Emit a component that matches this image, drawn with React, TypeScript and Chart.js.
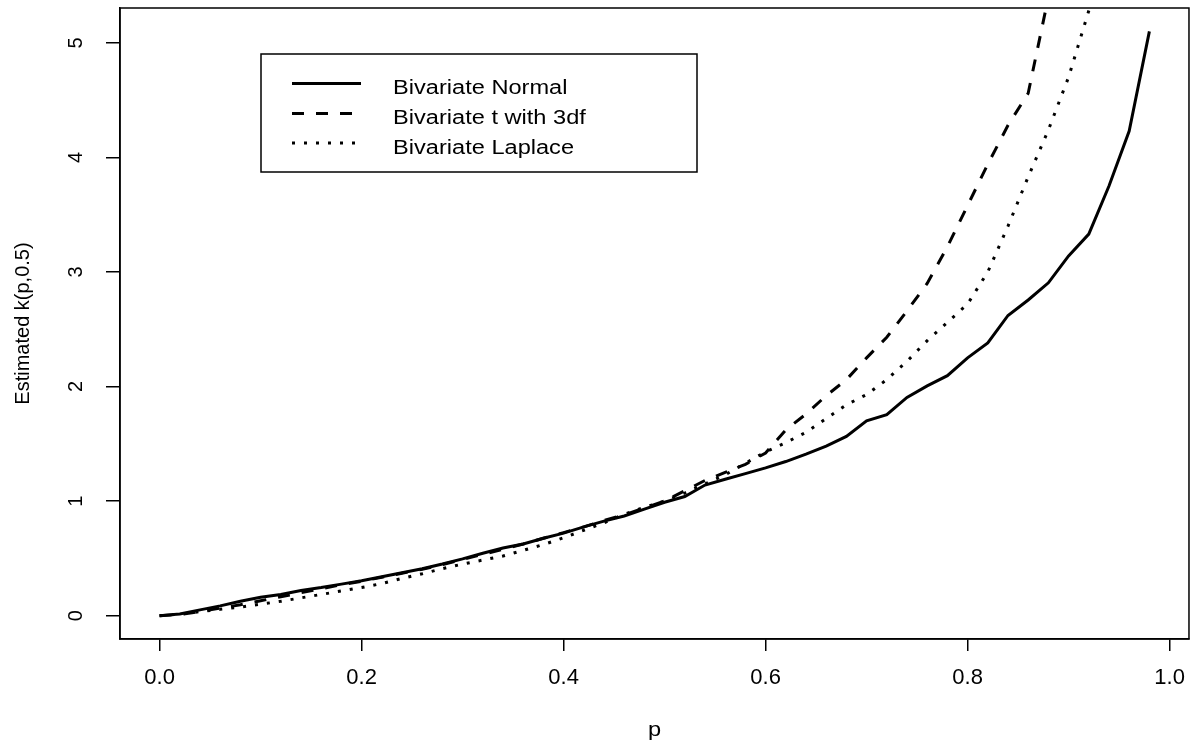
import React, { useEffect, useRef } from "react";
import { Chart, registerables } from "chart.js";

Chart.register(...registerables);

const pValues = [
  0, 0.02, 0.04, 0.06, 0.08, 0.1, 0.12, 0.14, 0.16, 0.18,
  0.2, 0.22, 0.24, 0.26, 0.28, 0.3, 0.32, 0.34, 0.36, 0.38,
  0.4, 0.42, 0.44, 0.46, 0.48, 0.5, 0.52, 0.54, 0.56, 0.58,
  0.6, 0.62, 0.64, 0.66, 0.68, 0.7, 0.72, 0.74, 0.76, 0.78,
  0.8, 0.82, 0.84, 0.86, 0.88, 0.9, 0.92, 0.94, 0.96, 0.98,
];

const normalK = [
  0, 0.015, 0.05, 0.085, 0.125, 0.16, 0.185, 0.22, 0.245, 0.275,
  0.305, 0.34, 0.375, 0.41, 0.45, 0.495, 0.545, 0.59, 0.625, 0.675,
  0.72, 0.775, 0.825, 0.87, 0.93, 0.99, 1.04, 1.14, 1.19, 1.24,
  1.29, 1.345, 1.41, 1.48, 1.565, 1.7, 1.755, 1.905, 2.005, 2.095,
  2.25, 2.38, 2.62, 2.755, 2.905, 3.14, 3.33, 3.75, 4.23, 5.1,
];

const tK = [
  0, 0.01, 0.035, 0.065, 0.095, 0.13, 0.165, 0.2, 0.235, 0.27,
  0.3, 0.335, 0.37, 0.405, 0.445, 0.49, 0.535, 0.58, 0.625, 0.675,
  0.725, 0.775, 0.83, 0.88, 0.94, 1.0, 1.09, 1.18, 1.25, 1.32,
  1.42, 1.62, 1.76, 1.92, 2.06, 2.25, 2.43, 2.66, 2.9, 3.22,
  3.58, 3.94, 4.28, 4.56, 5.4, 6.2,
];

const laplaceK = [
  0, 0.012, 0.035, 0.055, 0.075, 0.1, 0.125, 0.155, 0.185, 0.215,
  0.245, 0.28, 0.325, 0.365, 0.41, 0.45, 0.485, 0.52, 0.57, 0.62,
  0.68, 0.745, 0.81, 0.885, 0.945, 1.0, 1.07, 1.15, 1.23, 1.33,
  1.43, 1.51, 1.6, 1.72, 1.84, 1.93, 2.06, 2.22, 2.4, 2.56,
  2.72, 3.0, 3.4, 3.83, 4.24, 4.7, 5.28, 5.9,
];

const seriesNames = ["Bivariate Normal", "Bivariate t with 3df", "Bivariate Laplace"];
const seriesDash = [[], [12, 12], [3, 9]];
const xTickValues = [0, 0.2, 0.4, 0.6, 0.8, 1.0];
const yTickValues = [0, 1, 2, 3, 4, 5];
const xTitle = "p";
const yTitle = "Estimated k(p,0.5)";

const FONT = '"Liberation Sans", Arial, Helvetica, sans-serif';

function toPoints(ys: number[]) {
  return ys.map((y, i) => ({ x: pValues[i], y }));
}

const rDecor = {
  id: "rDecor",
  afterDraw(chart: any) {
    const { ctx, chartArea: ca, scales } = chart;
    ctx.save();
    // plot box
    ctx.strokeStyle = "#000";
    ctx.lineWidth = 1.5;
    ctx.setLineDash([]);
    ctx.strokeRect(ca.left, ca.top, ca.right - ca.left, ca.bottom - ca.top);

    ctx.fillStyle = "#000";
    // y tick labels (rotated, R style)
    ctx.font = `20px ${FONT}`;
    ctx.textAlign = "center";
    ctx.textBaseline = "alphabetic";
    for (const v of yTickValues) {
      const y = scales.y.getPixelForValue(v);
      ctx.save();
      ctx.translate(82, y);
      ctx.rotate(-Math.PI / 2);
      ctx.fillText(String(v), 0, 0);
      ctx.restore();
    }
    // y title
    ctx.save();
    ctx.translate(29, (ca.top + ca.bottom) / 2);
    ctx.rotate(-Math.PI / 2);
    ctx.fillText(yTitle, 0, 0);
    ctx.restore();
    // x title
    ctx.save();
    ctx.translate((ca.left + ca.right) / 2, 736);
    ctx.scale(1.18, 1);
    ctx.fillText(xTitle, 0, 0);
    ctx.restore();

    // legend
    const bx = 261, by = 54, bw = 436, bh = 118;
    ctx.lineWidth = 1.5;
    ctx.strokeStyle = "#000";
    ctx.strokeRect(bx, by, bw, bh);
    const rows = [83.5, 113.5, 143];
    chart.data.datasets.forEach((ds: any, i: number) => {
      const y = rows[i];
      ctx.save();
      ctx.lineWidth = ds.borderWidth;
      ctx.strokeStyle = ds.borderColor;
      ctx.setLineDash(ds.borderDash || []);
      ctx.beginPath();
      ctx.moveTo(292, y);
      ctx.lineTo(361, y);
      ctx.stroke();
      ctx.restore();
      ctx.save();
      ctx.translate(393, y + 10.5);
      ctx.scale(1.18, 1);
      ctx.textAlign = "left";
      ctx.fillText(ds.label, 0, 0);
      ctx.restore();
    });
    ctx.restore();
  },
};

export default function App() {
  const ref = useRef<HTMLCanvasElement | null>(null);
  useEffect(() => {
    if (!ref.current) return;
    const mk = (i: number, ys: number[]) => ({
      label: seriesNames[i],
      data: toPoints(ys),
      borderColor: "#000",
      borderWidth: 3,
      borderDash: seriesDash[i],
      borderCapStyle: "butt",
      pointRadius: 0,
      tension: 0,
      fill: false,
      clip: 0,
    });
    const chart = new Chart(ref.current, {
      type: "line",
      data: {
        datasets: [mk(0, normalK), mk(1, tK), mk(2, laplaceK)] as any,
      },
      options: {
        responsive: false,
        animation: false,
        layout: { padding: { top: 8, right: 7, left: 0, bottom: 0 } },
        plugins: { legend: { display: false }, tooltip: { enabled: false } },
        scales: {
          x: {
            type: "linear",
            min: -0.0392,
            max: 1.0192,
            afterBuildTicks: (s: any) => {
              s.ticks = xTickValues.map((v) => ({ value: v }));
            },
            afterFit: (s: any) => {
              s.height = 104;
            },
            grid: {
              display: true,
              drawOnChartArea: false,
              drawTicks: true,
              tickLength: 12,
              color: "#000",
              lineWidth: 1.5,
            },
            border: { display: true, color: "#000", width: 1.5 },
            ticks: {
              color: "#000",
              font: { family: FONT, size: 22 },
              padding: 14,
              maxRotation: 0,
              minRotation: 0,
              autoSkip: false,
              callback: (v: any) => Number(v).toFixed(1),
            },
          },
          y: {
            type: "linear",
            min: -0.204,
            max: 5.304,
            afterBuildTicks: (s: any) => {
              s.ticks = yTickValues.map((v) => ({ value: v }));
            },
            afterFit: (s: any) => {
              s.width = 120;
            },
            grid: {
              display: true,
              drawOnChartArea: false,
              drawTicks: true,
              tickLength: 14,
              color: "#000",
              lineWidth: 1.5,
            },
            border: { display: true, color: "#000", width: 1.5 },
            ticks: { display: false },
          },
        },
      } as any,
      plugins: [rDecor],
    });
    return () => chart.destroy();
  }, []);

  return (
    <div style={{ position: "absolute", left: 0, top: 0, width: 1199, height: 743, background: "#fff" }}>
      <canvas ref={ref} width={1199} height={743} style={{ width: 1199, height: 743, display: "block" }} />
    </div>
  );
}
